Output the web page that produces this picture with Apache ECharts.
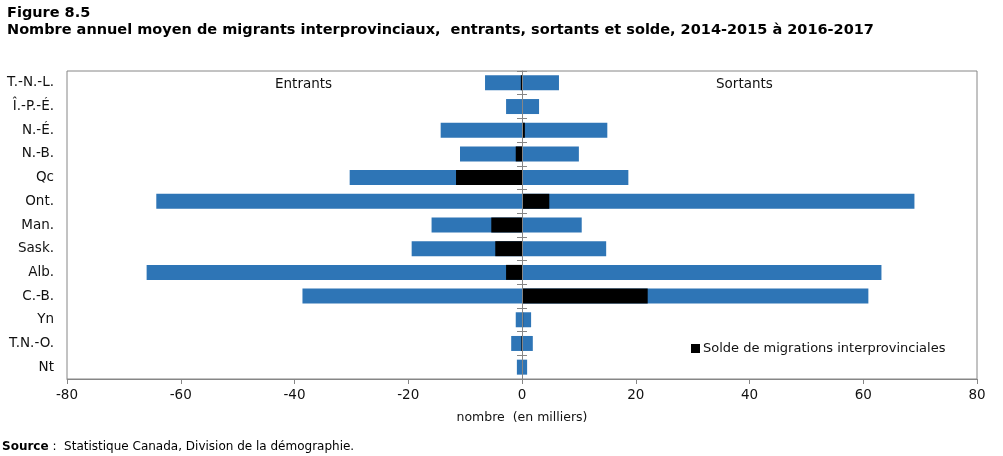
<!DOCTYPE html>
<html>
<head>
<meta charset="utf-8">
<script src="https://cdn.jsdelivr.net/npm/echarts@6/dist/echarts.min.js"></script>
<style>
html,body{margin:0;padding:0;background:#fff;}
#chart{width:1003px;height:456px;}
</style>
</head>
<body>
<div id="chart"></div>
<script>
var categories = ['T.-N.-L.','Î.-P.-É.','N.-É.','N.-B.','Qc','Ont.','Man.','Sask.','Alb.','C.-B.','Yn','T.N.-O.','Nt'];
var entrants = [-6.5,-2.8,-14.3,-10.9,-30.3,-64.3,-15.9,-19.4,-66.0,-38.6,-1.1,-1.9,-0.9];
var sortants = [6.5,3.0,15.0,10.0,18.7,69.0,10.5,14.8,63.2,60.9,1.6,1.9,0.9];
var solde = [-0.2,0.1,0.5,-1.1,-11.6,4.8,-5.4,-4.7,-2.8,22.1,0.2,-0.1,0.0];
var xTicks = [-80,-60,-40,-20,0,20,40,60,80];

var FONT = 'DejaVu Sans';
var BLUE = '#2E75B6';
var GRAY = '#868686';

var chart = echarts.init(document.getElementById('chart'), null, {renderer:'canvas'});
chart.setOption({
  animation:false,
  textStyle:{fontFamily:FONT},
  title:[
    {text:'Figure 8.5', left:2, top:1, textStyle:{fontFamily:FONT,fontWeight:'bold',fontSize:14.5,color:'#000'}},
    {text:'Nombre annuel moyen de migrants interprovinciaux,  entrants, sortants et solde, 2014-2015 à 2016-2017', left:2, top:18, textStyle:{fontFamily:FONT,fontWeight:'bold',fontSize:14.5,color:'#000'}}
  ],
  grid:{left:67, right:26, top:71, bottom:77, show:true, borderColor:GRAY, borderWidth:1, containLabel:false},
  legend:{
    data:['Solde de migrations interprovinciales'],
    left:686, top:337, icon:'rect', itemWidth:9, itemHeight:9, itemGap:4,
    textStyle:{fontFamily:FONT,fontSize:13,color:'#111', padding:[0,0,0,-2]}
  },
  xAxis:{
    type:'value', min:xTicks[0], max:xTicks[xTicks.length-1], interval:20,
    name:'nombre  (en milliers)', nameLocation:'middle', nameGap:32,
    nameTextStyle:{fontFamily:FONT,fontSize:12.5,color:'#111'},
    axisLine:{show:true,onZero:false,lineStyle:{color:GRAY}},
    axisTick:{show:true,length:5,lineStyle:{color:GRAY}},
    axisLabel:{fontFamily:FONT,fontSize:13.5,color:'#111',margin:9},
    splitLine:{show:false}
  },
  yAxis:[
    {
      type:'category', data:categories, inverse:true, position:'left',
      axisLine:{show:false,onZero:false}, axisTick:{show:false},
      axisLabel:{fontFamily:FONT,fontSize:13.5,color:'#111',margin:13}
    },
    {
      type:'category', data:categories, inverse:true, position:'left', z:10,
      axisLine:{show:true,onZero:true,onZeroAxisIndex:0,lineStyle:{color:GRAY}},
      axisTick:{show:true,length:5,inside:false,lineStyle:{color:GRAY}},
      axisLabel:{show:false}
    },
    {
      type:'category', data:categories, inverse:true, position:'left', z:10,
      axisLine:{show:false,onZero:true,onZeroAxisIndex:0},
      axisTick:{show:true,length:5,inside:true,lineStyle:{color:GRAY}},
      axisLabel:{show:false}
    }
  ],
  series:[
    {name:'Entrants', type:'bar', yAxisIndex:0, data:entrants, barWidth:15, barGap:'-100%', itemStyle:{color:BLUE}, z:2},
    {name:'Sortants', type:'bar', yAxisIndex:0, data:sortants, barWidth:15, barGap:'-100%', itemStyle:{color:BLUE}, z:2},
    {name:'Solde de migrations interprovinciales', type:'bar', yAxisIndex:0, data:solde, barWidth:15, barGap:'-100%', itemStyle:{color:'#000'}, z:3}
  ],
  graphic:[
    {type:'text', left:275, top:77, style:{text:'Entrants', font:'13.5px "DejaVu Sans"', fill:'#111'}},
    {type:'text', left:716, top:77, style:{text:'Sortants', font:'13.5px "DejaVu Sans"', fill:'#111'}},
    {type:'text', left:2, top:441, style:{
      rich:{b:{fontFamily:FONT,fontWeight:'bold',fontSize:12,fill:'#000'}, n:{fontFamily:FONT,fontSize:12,fill:'#000'}},
      text:'{b|Source}{n| :  Statistique Canada, Division de la démographie.}'
    }}
  ]
});
</script>
</body>
</html>
